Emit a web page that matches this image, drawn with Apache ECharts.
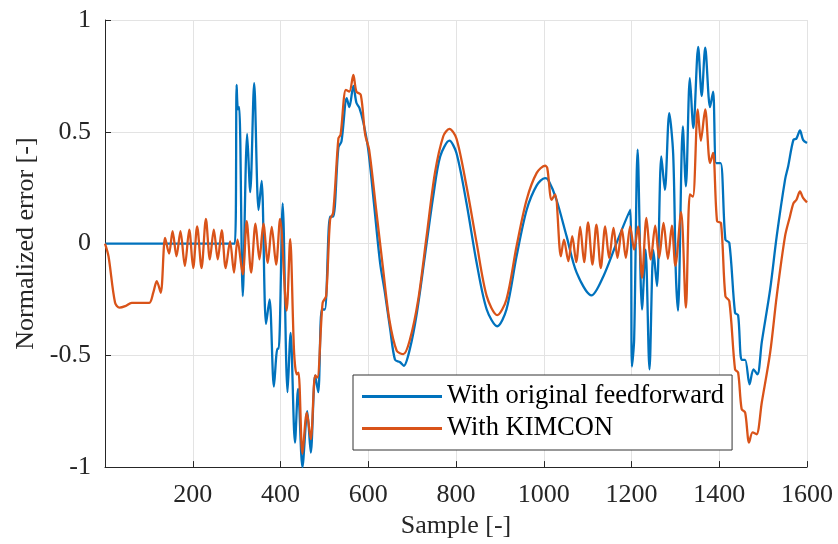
<!DOCTYPE html>
<html>
<head>
<meta charset="utf-8">
<script src="https://cdn.jsdelivr.net/npm/echarts@6/dist/echarts.min.js"></script>
<style>
html,body{margin:0;padding:0;background:#fff;}
#chart{width:838px;height:544px;}
</style>
</head>
<body>
<div id="chart"></div>
<script>
// ---- data ----
const xTicks = [200, 400, 600, 800, 1000, 1200, 1400, 1600];
const yTicks = [-1, -0.5, 0, 0.5, 1];
const seriesNames = ['With original feedforward', 'With KIMCON'];

const origSamples = [0,296,300,303,306,314,324,331,340,350,357,367,375,385,393,396,405,416,423,433,440,450,461,469,479,486,494,501,513,520,532,539,551,557,566,573,580,589,600,613,627,638,650,661,672,681,695,710,729,748,764,785,801,824,847,870,894,915,938,961,984,1003,1010,1029,1052,1075,1109,1136,1166,1197,1201,1206,1214,1224,1232,1241,1250,1258,1268,1276,1286,1295,1301,1306,1317,1324,1333,1341,1352,1360,1368,1379,1386,1393,1403,1414,1423,1436,1443,1451,1459,1469,1478,1487,1497,1516,1531,1550,1557,1569,1576,1584,1591,1600];
const origValues = [0,0,0.71,0.60,0.61,-0.235,0.49,0.23,0.717,0.15,0.28,-0.36,-0.25,-0.64,-0.47,-0.47,0.18,-0.665,-0.40,-0.89,-0.65,-1.0,-0.75,-0.935,-0.59,-0.665,-0.295,-0.295,0.12,0.12,0.43,0.457,0.65,0.61,0.705,0.63,0.606,0.54,0.42,0.18,-0.086,-0.22,-0.384,-0.52,-0.53,-0.547,-0.47,-0.32,-0.057,0.21,0.39,0.46,0.405,0.18,-0.086,-0.295,-0.37,-0.295,-0.057,0.15,0.26,0.293,0.286,0.196,0.033,-0.13,-0.232,-0.146,0.003,0.152,-0.55,-0.43,0.42,-0.295,-0.027,-0.5625,-0.03,-0.19,0.39,0.24,0.583,0.40,-0.13,-0.30,0.524,0.256,0.74,0.516,0.88,0.66,0.876,0.61,0.68,0.36,0.36,0.018,0.003,-0.31,-0.32,-0.52,-0.52,-0.63,-0.5625,-0.585,-0.44,-0.205,0.033,0.286,0.345,0.464,0.47,0.506,0.464,0.45];

const kimSamples = [0,8,23,33,46,61,80,101,110,118,127,137,146,154,163,172,182,192,201,210,220,230,239,248,257,266,275,285,294,302,314,323,333,343,352,361,371,380,390,399,414,422,431,437,441,450,460,469,479,484,496,504,513,520,532,537,549,557,566,573,583,593,602,618,633,648,665,680,695,714,733,752,771,785,801,824,847,870,894,915,938,961,984,1003,1008,1018,1026,1039,1046,1056,1065,1074,1083,1092,1101,1111,1120,1130,1140,1149,1159,1168,1178,1187,1197,1206,1215,1224,1234,1244,1254,1263,1273,1283,1292,1300,1313,1324,1333,1340,1351,1358,1368,1379,1386,1395,1404,1414,1423,1436,1443,1451,1459,1468,1476,1485,1497,1516,1531,1550,1561,1569,1576,1584,1591,1600];
const kimValues = [0,-0.057,-0.265,-0.287,-0.28,-0.265,-0.265,-0.265,-0.22,-0.168,-0.22,0.025,-0.045,0.055,-0.057,0.055,-0.10,0.0625,-0.11,0.077,-0.11,0.11,-0.071,0.0625,-0.071,0.06,-0.11,0.01,-0.13,0.018,-0.138,0.10,-0.13,0.089,-0.071,0.089,-0.086,0.075,-0.094,0.11,-0.30,0.02,-0.488,-0.585,-0.577,-0.94,-0.756,-0.875,-0.59,-0.60,-0.265,-0.235,0.107,0.137,0.47,0.487,0.6875,0.68,0.754,0.68,0.665,0.487,0.42,0.152,-0.10,-0.34,-0.48,-0.495,-0.43,-0.25,0.033,0.316,0.48,0.513,0.47,0.256,0.003,-0.235,-0.32,-0.25,-0.012,0.196,0.316,0.348,0.338,0.196,0.22,-0.057,0.018,-0.079,0.033,-0.083,0.075,-0.083,0.095,-0.094,0.085,-0.11,0.077,-0.064,0.07,-0.064,0.065,-0.064,0.077,-0.027,0.077,-0.153,0.115,-0.071,0.08,-0.064,0.092,-0.068,0.08,-0.10,0.14,-0.287,0.22,0.21,0.60,0.46,0.60,0.36,0.405,0.10,0.092,-0.235,-0.258,-0.5625,-0.577,-0.74,-0.756,-0.89,-0.845,-0.853,-0.71,-0.488,-0.235,0.033,0.12,0.18,0.196,0.233,0.204,0.184];

// ---- chart ----
const pair = (xs, ys) => xs.map((x, i) => [x, ys[i]]);
const FONT = '"Liberation Serif", "Times New Roman", serif';
const TXT = '#262626';
const GRIDC = '#e3e3e3';

const chart = echarts.init(document.getElementById('chart'), null, {renderer: 'canvas'});
chart.setOption({
  animation: false,
  backgroundColor: '#ffffff',
  textStyle: {fontFamily: FONT, color: TXT},
  grid: {left: 105, right: 31, top: 20, bottom: 76, containLabel: false},
  xAxis: {
    type: 'value', min: 0, max: 1600, interval: 200,
    name: 'Sample [-]', nameLocation: 'middle', nameGap: 45,
    nameTextStyle: {fontFamily: FONT, fontSize: 26, color: TXT},
    axisLine: {show: true, onZero: false, lineStyle: {color: TXT, width: 1}},
    axisTick: {show: true, inside: true, length: 6, lineStyle: {color: TXT}},
    axisLabel: {
      fontFamily: FONT, fontSize: 26, color: TXT, margin: 15,
      formatter: v => (xTicks.indexOf(v) >= 0 ? String(v) : '')
    },
    splitLine: {show: true, lineStyle: {color: GRIDC, width: 1}}
  },
  yAxis: {
    type: 'value', min: -1, max: 1, interval: 0.5,
    name: 'Normalized error [-]', nameLocation: 'middle', nameGap: 64,
    nameTextStyle: {fontFamily: FONT, fontSize: 26, color: TXT},
    axisLine: {show: true, onZero: false, lineStyle: {color: TXT, width: 1}},
    axisTick: {show: true, inside: true, length: 6, lineStyle: {color: TXT}},
    axisLabel: {
      fontFamily: FONT, fontSize: 26, color: TXT, margin: 14,
      formatter: v => (yTicks.indexOf(v) >= 0 ? String(v) : '')
    },
    splitLine: {show: true, lineStyle: {color: GRIDC, width: 1}}
  },
  legend: {
    orient: 'vertical', left: 353, top: 375,
    padding: [8, 8, 8, 9], itemGap: 5,
    itemWidth: 80, itemHeight: 3,
    icon: 'rect',
    borderColor: '#333333', borderWidth: 1, backgroundColor: '#ffffff',
    textStyle: {fontFamily: FONT, fontSize: 26.5, color: '#000000'},
    data: seriesNames
  },
  series: [
    {
      name: seriesNames[0], type: 'line', data: pair(origSamples, origValues),
      symbol: 'none', smooth: 0.3, color: '#0072BD',
      lineStyle: {width: 2.3, color: '#0072BD'}, z: 2
    },
    {
      name: seriesNames[1], type: 'line', data: pair(kimSamples, kimValues),
      symbol: 'none', smooth: 0.3, color: '#D95319',
      lineStyle: {width: 2.3, color: '#D95319'}, z: 3
    }
  ]
});
</script>
</body>
</html>
